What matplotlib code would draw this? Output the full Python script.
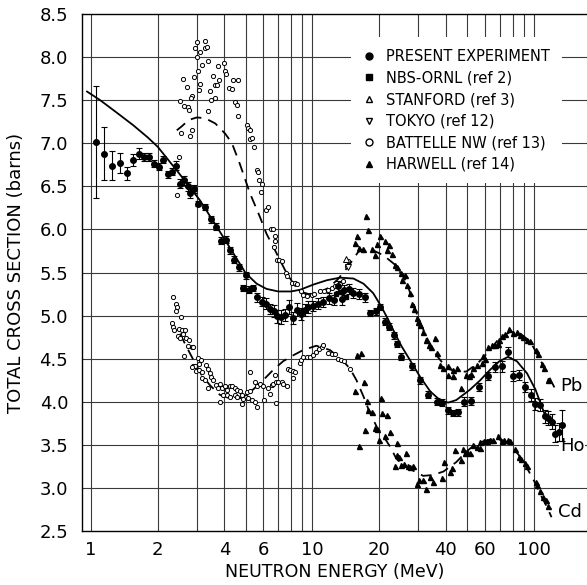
import matplotlib
matplotlib.use('Agg')
import matplotlib.pyplot as plt
from matplotlib.lines import Line2D

# ---- Present experiment (Ho), filled circles with error bars
ho_e = [1.05, 1.15, 1.25, 1.35, 1.45, 1.54, 1.64, 1.74, 1.83, 1.93, 2.03, 2.11, 2.22, 2.31, 2.41,
        2.53, 2.62, 2.73, 2.81, 2.91, 3.05, 3.26, 3.47, 3.66, 3.86, 4.06, 4.24, 4.44, 4.66, 4.84,
        5.03, 5.18, 5.40, 5.62, 5.89, 6.15, 6.43, 6.71, 6.93, 7.21, 7.51, 7.86, 8.20, 8.48, 8.84,
        9.26, 9.59, 10.1, 10.6, 11.2, 11.9, 12.5, 13.1, 13.6, 13.9, 14.6, 15.3, 16.3, 17.2, 18.1,
        19.4, 20.2, 21.3, 22.2, 23.4, 24.1, 25.0, 28.2, 30.7, 33.4, 36.3, 38.3, 40.9, 42.9, 45.5,
        48.3, 51.9, 56.5, 62.1, 66.5, 71.5, 76.3, 80.8, 86.0, 90.8, 96.8, 101.4, 106, 112, 116,
        121, 125, 130, 134]
ho_s = [7.02, 6.88, 6.74, 6.77, 6.65, 6.81, 6.88, 6.84, 6.84, 6.76, 6.73, 6.81, 6.64, 6.67, 6.74,
        6.53, 6.57, 6.50, 6.42, 6.47, 6.30, 6.26, 6.12, 6.03, 5.87, 5.88, 5.76, 5.65, 5.56, 5.32,
        5.47, 5.30, 5.32, 5.21, 5.16, 5.14, 5.08, 5.05, 4.99, 4.98, 5.01, 5.10, 4.97, 5.07, 5.02,
        5.07, 5.10, 5.11, 5.14, 5.16, 5.20, 5.18, 5.34, 5.19, 5.30, 5.31, 5.26, 5.25, 5.21, 5.03,
        5.05, 5.10, 4.93, 4.87, 4.77, 4.67, 4.52, 4.41, 4.25, 4.08, 4.00, 3.99, 3.90, 3.87, 3.88,
        4.00, 4.01, 4.17, 4.30, 4.40, 4.41, 4.58, 4.30, 4.31, 4.17, 4.08, 3.97, 3.96, 3.83, 3.81,
        3.77, 3.63, 3.65, 3.73]
ho_err = [0.65, 0.31, 0.17, 0.12, 0.08, 0.07, 0.06, 0.05, 0.05, 0.04, 0.04, 0.04, 0.04, 0.04, 0.05,
          0.05, 0.05, 0.05, 0.05, 0.05, 0.03, 0.03, 0.04, 0.04, 0.04, 0.04, 0.04, 0.04, 0.04, 0.04,
          0.04, 0.04, 0.04, 0.05, 0.05, 0.06, 0.06, 0.07, 0.08, 0.08, 0.07, 0.08, 0.07, 0.08, 0.07,
          0.07, 0.07, 0.06, 0.06, 0.06, 0.06, 0.06, 0.06, 0.07, 0.06, 0.06, 0.06, 0.06, 0.05, 0.04,
          0.04, 0.04, 0.04, 0.04, 0.04, 0.04, 0.04, 0.04, 0.04, 0.04, 0.04, 0.04, 0.04, 0.04, 0.04,
          0.05, 0.05, 0.05, 0.05, 0.06, 0.06, 0.06, 0.06, 0.06, 0.06, 0.07, 0.07, 0.07, 0.08, 0.08,
          0.09, 0.10, 0.10, 0.18]

# Ho fit (solid)
ho_fit_e = [0.96, 1.1, 1.3, 1.55, 1.8, 2.0, 2.5, 3.1, 3.7, 4.4, 5.0, 5.6, 6.2, 7.0, 8.0, 8.8,
            10.1, 11.6, 13.3, 15.3, 17.0, 18.8, 20.5, 22.0, 23.6, 25.3, 27.6, 30.6, 34.0, 37.6,
            41.0, 44.6, 51.4, 57.2, 63.3, 69.8, 76.3, 83.7, 93.0, 101.6, 108.6, 112]
ho_fit_s = [7.60, 7.50, 7.36, 7.21, 7.07, 6.96, 6.65, 6.34, 6.03, 5.72, 5.49, 5.37, 5.31, 5.28,
            5.28, 5.30, 5.36, 5.41, 5.44, 5.43, 5.37, 5.26, 5.10, 4.95, 4.79, 4.64, 4.48, 4.29,
            4.12, 4.02, 3.99, 4.02, 4.14, 4.25, 4.37, 4.47, 4.52, 4.47, 4.33, 4.14, 3.94, 3.85]

# ---- Battelle NW (open circles), upper (Pb) and lower (Cd) groups
bat_pb_e = [3.01, 3.28, 2.94, 3.26, 3.34, 3.12, 3.01, 3.17, 3.37, 3.04, 3.74, 3.97, 4.01, 4.06,
            3.54, 2.61, 2.91, 3.12, 2.71, 3.06, 3.46, 3.64, 3.71, 3.79, 4.18, 4.33, 4.40, 4.63,
            2.86, 2.83, 3.49, 3.64, 2.52, 2.62, 2.74, 2.76, 4.48, 4.55, 4.59, 2.86, 2.55, 2.81,
            2.49, 2.44, 3.39, 5.04, 5.12, 5.22, 5.22, 5.36, 5.44, 5.59, 5.67, 5.73, 5.94, 5.85,
            6.17, 6.32, 6.49, 6.60, 6.77, 6.79, 6.71, 6.89, 7.06, 7.26, 7.57, 7.66, 8.05, 8.34,
            8.53, 8.84, 9.08, 9.45, 9.9, 10.2, 10.8, 11.3, 11.7, 12.3, 12.7, 13.3, 13.7, 14.3, 14.5]
bat_pb_s = [8.18, 8.19, 8.11, 8.11, 8.12, 8.06, 8.00, 7.91, 7.95, 7.84, 7.90, 7.93, 7.84, 7.80,
            7.78, 7.74, 7.77, 7.69, 7.65, 7.62, 7.61, 7.68, 7.68, 7.73, 7.64, 7.63, 7.73, 7.73,
            7.55, 7.53, 7.50, 7.53, 7.49, 7.43, 7.42, 7.39, 7.48, 7.44, 7.32, 7.15, 7.12, 7.08,
            6.84, 6.40, 7.38, 7.21, 7.18, 7.15, 7.05, 7.06, 6.96, 6.69, 6.67, 6.57, 6.53, 6.44,
            6.23, 6.26, 6.01, 6.00, 5.92, 5.87, 5.80, 5.65, 5.65, 5.63, 5.49, 5.46, 5.38, 5.38,
            5.37, 5.28, 5.24, 5.23, 5.24, 5.25, 5.28, 5.29, 5.30, 5.32, 5.34, 5.37, 5.40, 5.57, 5.63]

bat_cd_e = [2.34, 2.42, 2.44, 2.41, 2.55, 2.33, 2.35, 2.37, 2.50, 2.57, 2.59, 2.66, 2.48, 2.52,
            2.68, 2.78, 2.75, 2.85, 2.90, 2.63, 2.90, 2.95, 2.85, 3.05, 3.13, 3.07, 2.97, 3.08,
            3.16, 3.30, 3.39, 3.45, 3.16, 3.27, 3.50, 3.54, 3.39, 3.67, 3.82, 3.76, 3.89, 4.01,
            4.10, 4.24, 4.31, 4.10, 4.24, 4.46, 4.57, 4.70, 3.82, 3.96, 4.46, 4.54, 4.79, 5.01,
            4.87, 4.79, 5.07, 5.22, 5.13, 5.36, 5.50, 5.63, 5.50, 5.59, 5.78, 5.96, 6.04, 6.31,
            6.43, 6.55, 6.65, 6.83, 6.77, 6.83, 7.00, 7.26, 7.37, 7.66, 5.22, 7.78, 7.91, 8.13,
            8.34, 8.20, 8.78, 8.92, 9.08, 9.4, 9.7, 10.1, 10.4, 10.7, 11.0, 11.2, 11.8, 12.2,
            12.6, 13.1, 13.5, 13.9, 14.8]
bat_cd_s = [5.21, 5.14, 5.10, 5.05, 4.98, 4.91, 4.87, 4.83, 4.85, 4.83, 4.79, 4.83, 4.76, 4.74,
            4.74, 4.72, 4.65, 4.63, 4.63, 4.53, 4.42, 4.41, 4.40, 4.51, 4.48, 4.44, 4.36, 4.37,
            4.34, 4.43, 4.38, 4.33, 4.27, 4.25, 4.29, 4.25, 4.16, 4.19, 4.21, 4.16, 4.16, 4.18,
            4.14, 4.18, 4.18, 4.08, 4.06, 4.16, 4.14, 4.12, 4.00, 4.08, 4.08, 4.06, 4.08, 4.06,
            4.03, 3.97, 4.11, 4.13, 4.04, 4.02, 4.23, 4.18, 4.00, 3.94, 4.21, 4.18, 4.02, 4.16,
            4.09, 4.19, 4.21, 4.23, 4.31, 3.99, 4.23, 4.23, 4.21, 4.18, 4.34, 4.38, 4.37, 4.36,
            4.35, 4.28, 4.45, 4.49, 4.52, 4.52, 4.52, 4.54, 4.58, 4.61, 4.64, 4.66, 4.57, 4.55,
            4.55, 4.50, 4.49, 4.47, 4.38]

# ---- Harwell (filled triangles), Pb and Cd
har_pb_e = [17.4, 17.9, 15.9, 15.6, 16.3, 16.9, 18.5, 19.2, 19.5, 20.2, 21.3, 22.2, 21.7, 22.9,
            23.6, 24.0, 25.0, 25.3, 26.1, 26.6, 27.6, 28.2, 28.7, 29.5, 29.8, 30.6, 31.6, 32.7,
            33.7, 35.8, 34.4, 36.3, 37.6, 38.9, 41.0, 43.1, 45.0, 41.0, 43.1, 46.8, 49.2, 50.9,
            52.2, 53.1, 55.3, 58.1, 59.1, 60.1, 62.3, 64.4, 66.6, 68.7, 69.8, 71.9, 74.3, 77.0,
            80.6, 83.7, 86.8, 89.3, 93.0, 96.2, 101.6, 104, 108.7, 111.5, 116]
har_pb_s = [6.15, 5.99, 5.92, 5.84, 5.78, 5.77, 5.77, 5.70, 5.83, 5.92, 5.86, 5.82, 5.76, 5.71,
            5.59, 5.56, 5.49, 5.41, 5.47, 5.36, 5.26, 5.14, 5.08, 4.97, 4.92, 4.89, 4.81, 4.72,
            4.66, 4.74, 4.63, 4.56, 4.43, 4.39, 4.41, 4.37, 4.39, 4.31, 4.30, 4.16, 4.31, 4.30,
            4.32, 4.39, 4.43, 4.45, 4.53, 4.50, 4.64, 4.66, 4.66, 4.67, 4.72, 4.76, 4.79, 4.84,
            4.80, 4.81, 4.78, 4.75, 4.72, 4.71, 4.60, 4.55, 4.44, 4.39, 4.25]

har_cd_e = [15.9, 16.5, 17.0, 15.6, 17.6, 20.4, 17.8, 18.5, 20.7, 21.7, 17.3, 19.2, 19.6, 16.2,
            20.0, 21.3, 22.4, 24.2, 24.0, 24.6, 26.4, 23.6, 25.2, 25.9, 27.0, 27.5, 28.5, 29.5,
            30.3, 31.6, 32.7, 34.1, 35.0, 38.4, 39.4, 41.8, 42.5, 44.0, 46.6, 47.9, 48.6, 49.8,
            51.4, 53.1, 55.1, 56.8, 57.2, 59.2, 61.3, 63.3, 65.4, 68.8, 71.5, 73.1, 76.3, 77.6,
            81.8, 85.9, 87.7, 90.8, 92.9, 101.6, 103.2, 106.6, 110, 113, 115.6]
har_cd_s = [4.54, 4.56, 4.23, 4.12, 4.01, 4.04, 3.90, 3.88, 3.87, 3.85, 3.67, 3.69, 3.68, 3.49,
            3.56, 3.60, 3.65, 3.52, 3.38, 3.36, 3.40, 3.25, 3.27, 3.28, 3.25, 3.24, 3.25, 3.05,
            3.09, 3.09, 2.99, 3.13, 3.07, 3.11, 3.30, 3.19, 3.23, 3.44, 3.32, 3.45, 3.41, 3.42,
            3.40, 3.50, 3.48, 3.46, 3.53, 3.54, 3.55, 3.56, 3.56, 3.60, 3.54, 3.56, 3.56, 3.55,
            3.45, 3.36, 3.33, 3.29, 3.25, 3.07, 3.03, 2.97, 2.90, 2.86, 2.79]

# ---- other references (few points near 14 MeV)
nbs_e = [12.8, 13.5, 14.1]
nbs_s = [5.25, 5.27, 5.22]
stan_e = [14.1]
stan_s = [5.66]
tokyo_e = [14.4]
tokyo_s = [5.56]

# ---- Pb and Cd dashed curves
pb_fit_e = [2.44, 2.58, 2.76, 3.01, 3.28, 3.64, 4.04, 4.33, 4.70, 5.22, 5.78, 6.2, 6.77, 7.51,
            8.2, 8.78, 9.6, 10.5, 11.8, 13.0, 14.5, 16.1, 18.0, 20.9, 23.6, 26.6, 29.5, 32.7,
            36.3, 40.3, 44.6, 49.5, 55.9, 63.3, 69.8, 78.1, 86.8, 96.2, 107, 118, 124]
pb_fit_s = [7.15, 7.20, 7.27, 7.30, 7.29, 7.23, 7.11, 7.00, 6.76, 6.42, 6.15, 5.95, 5.76, 5.53,
            5.37, 5.28, 5.25, 5.26, 5.32, 5.42, 5.57, 5.74, 5.78, 5.70, 5.59, 5.39, 5.03, 4.75,
            4.54, 4.39, 4.35, 4.35, 4.45, 4.60, 4.74, 4.81, 4.79, 4.70, 4.48, 4.27, 4.16]

cd_fit_e = [2.52, 2.80, 2.95, 3.16, 3.45, 3.82, 4.24, 4.70, 5.22, 5.78, 6.65, 7.37, 8.2, 9.08,
            10.4, 12.0, 13.8, 14.8, 15.8, 17.0, 18.1, 19.5, 20.9, 22.4, 23.9, 25.6, 28.5, 31.6,
            35.0, 39.0, 44.6, 49.5, 55.1, 63.3, 69.8, 78.1, 86.8, 93.0, 101.6, 108.6, 114.5, 120]
cd_fit_s = [4.79, 4.56, 4.45, 4.31, 4.19, 4.08, 4.04, 4.04, 4.11, 4.21, 4.37, 4.47, 4.54, 4.60,
            4.65, 4.60, 4.47, 4.38, 4.25, 4.06, 3.88, 3.71, 3.60, 3.48, 3.34, 3.27, 3.20, 3.14,
            3.15, 3.19, 3.30, 3.42, 3.52, 3.56, 3.56, 3.50, 3.36, 3.23, 3.05, 2.89, 2.78, 2.66]

x_ticks = [1, 2, 4, 6, 10, 20, 40, 60, 100]
x_grid = [1, 2, 3, 4, 5, 6, 7, 8, 9, 10, 20, 30, 40, 50, 60, 70, 80, 90, 100]
y_ticks = [2.5, 3.0, 3.5, 4.0, 4.5, 5.0, 5.5, 6.0, 6.5, 7.0, 7.5, 8.0, 8.5]

plt.rcParams['font.family'] = 'DejaVu Sans'

fig = plt.figure(figsize=(5.87, 5.85), dpi=100)
ax = fig.add_axes([82 / 587, 54 / 585, 505 / 587, 517 / 585])
ax.set_xscale('log')
ax.set_xlim(0.911, 173.5)
ax.set_ylim(2.5, 8.5)

gc = '#3a3a3a'
for g in x_grid:
    ax.axvline(g, color=gc, lw=0.8, zorder=0)
for g in y_ticks[1:-1]:
    ax.axhline(g, color=gc, lw=0.8, zorder=0)

ax.set_xticks(x_ticks)
ax.set_xticklabels([str(t) for t in x_ticks])
ax.xaxis.set_minor_locator(matplotlib.ticker.NullLocator())
ax.set_yticks(y_ticks)
ax.set_yticklabels([f'{t:.1f}' for t in y_ticks])
ax.tick_params(axis='y', length=0, labelsize=13, pad=10)
ax.tick_params(axis='x', length=0, labelsize=13, pad=7)
ax.spines['right'].set_visible(False)
for s in ['left', 'bottom', 'top']:
    ax.spines[s].set_linewidth(1.0)

ax.set_xlabel('NEUTRON ENERGY (MeV)', fontsize=12.5, labelpad=3)
ax.set_ylabel('TOTAL CROSS SECTION (barns)', fontsize=13, labelpad=10)

# curves
ax.plot(ho_fit_e, ho_fit_s, '-', color='black', lw=1.3, zorder=3)
ax.plot(pb_fit_e, pb_fit_s, color='black', lw=1.3, ls=(0, (6, 4)), zorder=3)
ax.plot(cd_fit_e, cd_fit_s, color='black', lw=1.3, ls=(0, (6, 4)), zorder=3)

# data
ax.errorbar(ho_e, ho_s, yerr=ho_err, fmt='o', ms=4, color='black', ecolor='black',
            elinewidth=0.8, capsize=2, capthick=0.8, zorder=4)
ax.plot(bat_pb_e, bat_pb_s, 'o', ms=3, mfc='white', mec='black', mew=0.7, zorder=4)
ax.plot(bat_cd_e, bat_cd_s, 'o', ms=3, mfc='white', mec='black', mew=0.7, zorder=4)
ax.plot(har_pb_e, har_pb_s, '^', ms=3.6, color='black', zorder=4)
ax.plot(har_cd_e, har_cd_s, '^', ms=3.6, color='black', zorder=4)
ax.plot(nbs_e, nbs_s, 's', ms=3.5, color='black', zorder=4)
ax.plot(stan_e, stan_s, '^', ms=4, mfc='white', mec='black', mew=0.7, zorder=4)
ax.plot(tokyo_e, tokyo_s, 'v', ms=4, mfc='white', mec='black', mew=0.7, zorder=4)

# curve labels
ax.text(131, 4.18, 'Pb', fontsize=13, va='center', ha='left')
ax.text(131, 3.49, 'Ho', fontsize=13, va='center', ha='left',
        bbox=dict(facecolor='white', edgecolor='none', pad=0.5))
ax.text(128, 2.72, 'Cd', fontsize=13, va='center', ha='left')

# legend
handles = [
    Line2D([], [], ls='none', marker='o', ms=5, color='black'),
    Line2D([], [], ls='none', marker='s', ms=5, color='black'),
    Line2D([], [], ls='none', marker='^', ms=5, mfc='white', mec='black'),
    Line2D([], [], ls='none', marker='v', ms=5, mfc='white', mec='black'),
    Line2D([], [], ls='none', marker='o', ms=5, mfc='white', mec='black'),
    Line2D([], [], ls='none', marker='^', ms=5, color='black'),
]
labels = ['PRESENT EXPERIMENT', 'NBS-ORNL (ref 2)', 'STANFORD (ref 3)', 'TOKYO (ref 12)',
          'BATTELLE NW (ref 13)', 'HARWELL (ref 14)']
leg = ax.legend(handles, labels, loc='upper left', bbox_to_anchor=(262 / 505, 1 - 16 / 517),
                fontsize=10.5, frameon=True, fancybox=False, framealpha=1,
                edgecolor='none', facecolor='white', handlelength=0.8, handletextpad=0.8,
                labelspacing=0.45, borderpad=0.8)
leg.set_zorder(5)

fig.savefig('out.png', dpi=100)
